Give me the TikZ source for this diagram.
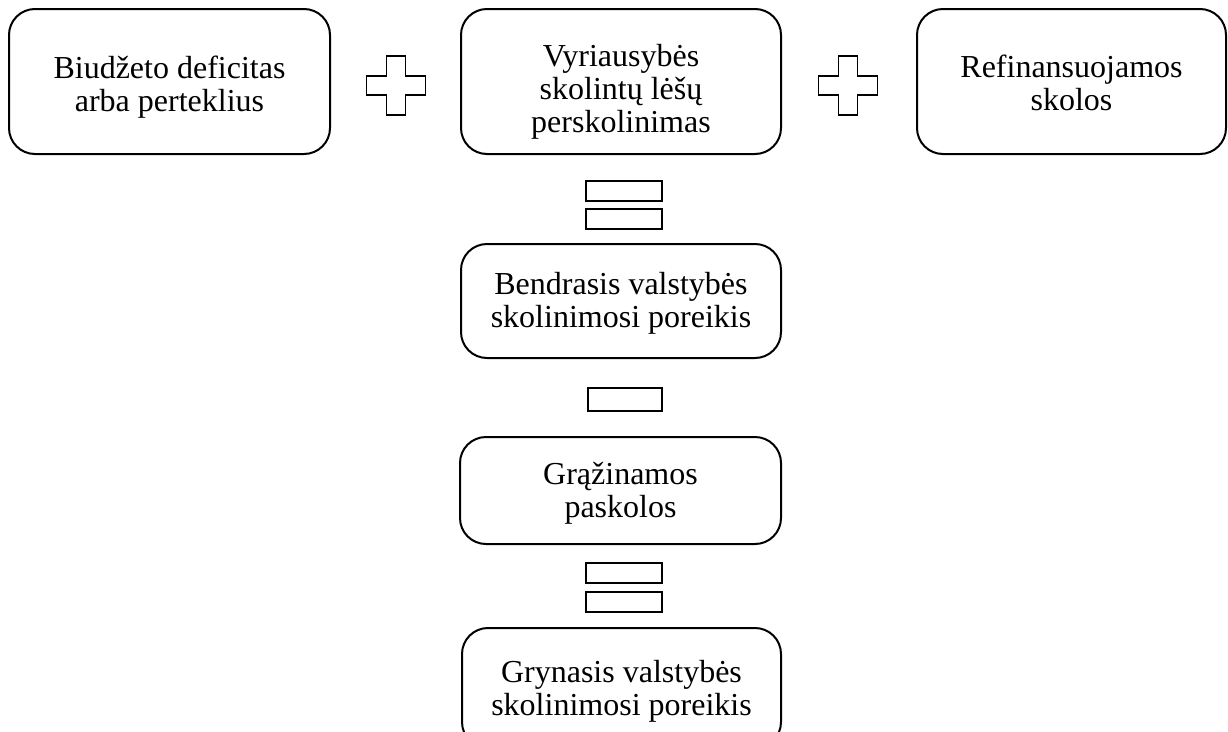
\documentclass[tikz,border=0pt]{standalone}
\usepackage{fontspec}
\setmainfont{Liberation Serif}
\tikzset{
  termbox/.style={draw=black, line width=2pt, rounded corners=26pt, align=center,
    inner sep=0pt, font=\fontsize{32}{33}\selectfont, text depth=0pt},
  opbar/.style={draw=black, line width=1.6pt, rectangle, inner sep=0pt, fill=white},
  oplines/.style={draw=black, line width=1.6pt, line join=miter},
  plussign/.pic={\draw[oplines] (-29.5,-9.5) -- (-9.5,-9.5) -- (-9.5,-29.5) -- (9.5,-29.5) -- (9.5,-9.5)
      -- (29.5,-9.5) -- (29.5,9.5) -- (9.5,9.5) -- (9.5,29.5) -- (-9.5,29.5) -- (-9.5,9.5) -- (-29.5,9.5) -- cycle;}
}
\begin{document}
\begin{tikzpicture}[x=1pt,y=-1pt]
\useasboundingbox (0,0) rectangle (1228,731);
\clip (0,0) rectangle (1228,731);
% top row
\node[termbox, minimum width=321pt, minimum height=145pt, text height=59pt] (b1) at (169.5,81.5) {Biudžeto deficitas\\arba perteklius};
\node[termbox, minimum width=320pt, minimum height=145pt, text height=101pt] (b2) at (621,81.5) {Vyriausybės\\skolintų lėšų\\perskolinimas};
\node[termbox, minimum width=309pt, minimum height=145pt, text height=57pt] (b3) at (1071.5,81.5) {Refinansuojamos\\skolos};
\pic at (396,85.5) {plussign};
\pic at (848,85.5) {plussign};
% equal 1
\node[opbar, minimum width=76pt, minimum height=20pt] (eq1a) at (624,191) {};
\node[opbar, minimum width=76pt, minimum height=20pt] (eq1b) at (624,219) {};
% box 4
\node[termbox, minimum width=320pt, minimum height=114pt, text height=52pt] (b4) at (621,301) {Bendrasis valstybės\\skolinimosi poreikis};
% minus
\node[opbar, minimum width=74pt, minimum height=23pt] (mi) at (625,399.5) {};
% box 5
\node[termbox, minimum width=321pt, minimum height=107pt, text height=53pt] (b5) at (620.5,490.5) {Grąžinamos\\paskolos};
% equal 2
\node[opbar, minimum width=76pt, minimum height=20pt] (eq2a) at (624,573) {};
\node[opbar, minimum width=76pt, minimum height=20pt] (eq2b) at (624,602) {};
% box 6
\node[termbox, minimum width=319pt, minimum height=120pt, text height=54pt] (b6) at (621.5,688) {Grynasis valstybės\\skolinimosi poreikis};
\end{tikzpicture}
\end{document}
